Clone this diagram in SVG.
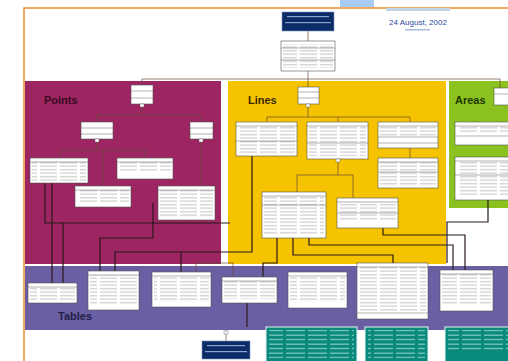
<svg xmlns="http://www.w3.org/2000/svg" width="508" height="361" viewBox="0 0 508 361">
<defs>
<pattern id="txt" width="20" height="3.5" patternUnits="userSpaceOnUse">
<rect x="0" y="1.3" width="17" height="0.8" fill="#b0b0b0"/>
</pattern>
<pattern id="wtxt" width="22" height="4.5" patternUnits="userSpaceOnUse">
<rect x="0" y="1.6" width="19" height="1" fill="#9fd8cf"/>
</pattern>
<style>
.box{fill:#fff;stroke:#555;stroke-width:0.6}
.fill{fill:url(#txt)}
.sep{stroke:#666;stroke-width:0.5}
.c{fill:none;stroke:#2a1a1a;stroke-width:1.2}
.cl{fill:none;stroke:#6a4a3a;stroke-width:0.7}
.title{font-family:"Liberation Sans",Arial,sans-serif;font-weight:bold;font-size:11px}
.teal{fill:#0a8a7c;stroke:#e8f4f2;stroke-width:1}
.navy{fill:#0c2c68;stroke:#7a8fb8;stroke-width:0.6}
.dia{fill:#fff;stroke:#555;stroke-width:0.4}
</style>
</defs>
<rect width="508" height="361" fill="#fff"/>
<rect x="340" y="0" width="34" height="7" fill="#a8cdf5"/>
<path d="M24,361 V8 H508" fill="none" stroke="#f08a30" stroke-width="1.5"/>

<!-- regions -->
<g id="regions">
<rect x="25" y="81" width="196" height="183" fill="#9c2562"/>
<rect x="228" y="81" width="218" height="183" fill="#f6c300"/>
<rect x="449" y="81" width="59" height="127" fill="#8cc21f"/>
<rect x="25" y="266" width="483" height="64" fill="#6b5fa4"/>
<text class="title" x="44" y="104" fill="#3a0a1e">Points</text>
<text class="title" x="248" y="104" fill="#3a2800">Lines</text>
<text class="title" x="455" y="104" fill="#1e3600">Areas</text>
<text class="title" x="58" y="320" fill="#1e1e48">Tables</text>
</g>

<g id="heading">
<rect x="386" y="8" width="64" height="3" fill="#c4d4e8"/>
<text x="418" y="25" font-family="Liberation Sans,Arial,sans-serif" font-size="8" fill="#2a4a9a" text-anchor="middle">24 August, 2002</text>
<rect x="405" y="29" width="25" height="1.5" fill="#a9bdd8"/>
</g>

<!-- connectors -->
<g id="connectors">
<path class="cl" d="M308,31 V41 M308,71 V87 M142,79 H500 M142,79 V85 M500,79 V88"/>
<!-- points -->
<path class="cl" d="M142,104 V115 M97,115 H201 M97,115 V122 M201,115 V122"/>
<path class="cl" d="M97,139 V150 M60,150 H145 M60,150 V158 M145,150 V158 M103,150 V186 M201,139 V186"/>
<!-- lines -->
<path class="cl" d="M308,104 V117 M267,117 H410 M267,117 V122 M338,117 V122 M410,117 V122 M410,148 V158"/>
<path class="cl" d="M338,159 V175 M297,175 H353 M297,175 V192 M353,175 V198"/>
<!-- to tables -->
<path class="c" d="M52,183 V283"/>
<path class="c" d="M45,183 V223 H63"/>
<path class="c" d="M230,223 H63 V283"/>
<path class="c" d="M153,203 V238 H100 V271"/>
<path class="c" d="M252,156 V252 H115 V271"/>
<path class="c" d="M181,252 V272"/>
<path class="c" d="M277,238 V263 H263 V277"/>
<path class="c" d="M293,238 V255 H393 V263"/>
<path class="c" d="M309,238 V245 H453 V270"/>
<path class="c" d="M383,228 V235 H465 V270"/>
<path class="c" d="M488,200 V222 H447 V263"/>
<path class="cl" d="M196,272 V263 H233 V277"/>
<path class="c" d="M247,303 V327"/>
<path class="cl" d="M226,330 V341"/>
<rect class="dia" x="224" y="331" width="4" height="3"/>
</g>

<!-- top nodes -->
<g id="n-header"><rect class="navy" x="282" y="12" width="52" height="19"/><rect x="287" y="16" width="42" height="1.2" fill="#8aa2d0"/><rect x="285" y="22" width="46" height="1.2" fill="#8aa2d0"/></g>
<g id="n-root"><rect class="box" x="281" y="41" width="54" height="30"/><rect class="fill" x="283" y="44" width="50" height="24"/><line class="sep" x1="281" y1="48" x2="335" y2="48"/><line class="sep" x1="281" y1="60" x2="335" y2="60"/></g>

<!-- points nodes -->
<g id="p-top"><rect class="box" x="131" y="85" width="22" height="19"/><line class="sep" x1="131" y1="91" x2="153" y2="91"/><line class="sep" x1="131" y1="98" x2="153" y2="98"/><rect class="dia" x="140" y="104" width="4" height="3"/></g>
<g id="p-mid1"><rect class="box" x="81" y="122" width="32" height="17"/><line class="sep" x1="81" y1="128" x2="113" y2="128"/><line class="sep" x1="81" y1="134" x2="113" y2="134"/><rect class="dia" x="95" y="139" width="4" height="3"/></g>
<g id="p-mid2"><rect class="box" x="190" y="122" width="23" height="17"/><line class="sep" x1="190" y1="128" x2="213" y2="128"/><line class="sep" x1="190" y1="134" x2="213" y2="134"/><rect class="dia" x="199" y="139" width="4" height="3"/></g>
<g id="p-a"><rect class="box" x="30" y="158" width="58" height="25"/><rect class="fill" x="32" y="161" width="54" height="20"/><line class="sep" x1="30" y1="162" x2="88" y2="162"/></g>
<g id="p-b"><rect class="box" x="117" y="158" width="56" height="21"/><rect class="fill" x="119" y="162" width="52" height="9"/><line class="sep" x1="117" y1="162" x2="173" y2="162"/></g>
<g id="p-c"><rect class="box" x="75" y="186" width="56" height="21"/><rect class="fill" x="77" y="190" width="52" height="13"/><line class="sep" x1="75" y1="190" x2="131" y2="190"/></g>
<g id="p-d"><rect class="box" x="158" y="186" width="57" height="34"/><rect class="fill" x="160" y="190" width="53" height="27"/><line class="sep" x1="158" y1="190" x2="215" y2="190"/></g>

<!-- lines nodes -->
<g id="l-top"><rect class="box" x="298" y="87" width="21" height="17"/><line class="sep" x1="298" y1="92" x2="319" y2="92"/><line class="sep" x1="298" y1="98" x2="319" y2="98"/><rect class="dia" x="306" y="104" width="4" height="3"/></g>
<g id="l-1"><rect class="box" x="236" y="122" width="61" height="34"/><rect class="fill" x="238" y="126" width="57" height="27"/><line class="sep" x1="236" y1="126" x2="297" y2="126"/><line class="sep" x1="236" y1="141" x2="297" y2="141"/></g>
<g id="l-2"><rect class="box" x="307" y="122" width="61" height="37"/><rect class="fill" x="309" y="126" width="57" height="30"/><line class="sep" x1="307" y1="126" x2="368" y2="126"/><line class="sep" x1="307" y1="143" x2="368" y2="143"/><rect class="dia" x="336" y="159" width="4" height="3"/></g>
<g id="l-3"><rect class="box" x="378" y="122" width="60" height="26"/><rect class="fill" x="380" y="126" width="56" height="10"/><line class="sep" x1="378" y1="126" x2="438" y2="126"/><line class="sep" x1="378" y1="137" x2="438" y2="137"/><line class="sep" x1="378" y1="143" x2="438" y2="143"/></g>
<g id="l-4"><rect class="box" x="378" y="158" width="60" height="30"/><rect class="fill" x="380" y="162" width="56" height="23"/><line class="sep" x1="378" y1="162" x2="438" y2="162"/><line class="sep" x1="378" y1="172" x2="438" y2="172"/></g>
<g id="l-5"><rect class="box" x="262" y="192" width="64" height="46"/><rect class="fill" x="264" y="196" width="60" height="39"/><line class="sep" x1="262" y1="196" x2="326" y2="196"/><line class="sep" x1="262" y1="205" x2="326" y2="205"/></g>
<g id="l-6"><rect class="box" x="337" y="198" width="61" height="30"/><rect class="fill" x="339" y="202" width="57" height="18"/><line class="sep" x1="337" y1="202" x2="398" y2="202"/><line class="sep" x1="337" y1="213" x2="398" y2="213"/></g>

<!-- areas nodes -->
<g id="a-top"><rect class="box" x="494" y="88" width="18" height="17"/><line class="sep" x1="494" y1="94" x2="508" y2="94"/></g>
<g id="a-1"><rect class="box" x="455" y="122" width="57" height="23"/><rect class="fill" x="457" y="126" width="53" height="8"/><line class="sep" x1="455" y1="126" x2="508" y2="126"/><line class="sep" x1="455" y1="136" x2="508" y2="136"/></g>
<g id="a-2"><rect class="box" x="455" y="157" width="57" height="43"/><rect class="fill" x="457" y="161" width="53" height="34"/><line class="sep" x1="455" y1="161" x2="508" y2="161"/><line class="sep" x1="455" y1="175" x2="508" y2="175"/></g>

<!-- tables nodes -->
<g id="t-1"><rect class="box" x="28" y="283" width="49" height="20"/><rect class="fill" x="30" y="287" width="45" height="13"/><line class="sep" x1="28" y1="287" x2="77" y2="287"/></g>
<g id="t-2"><rect class="box" x="88" y="271" width="51" height="39"/><rect class="fill" x="90" y="275" width="47" height="29"/><line class="sep" x1="88" y1="275" x2="139" y2="275"/></g>
<g id="t-3"><rect class="box" x="152" y="272" width="59" height="35"/><rect class="fill" x="154" y="276" width="55" height="26"/><line class="sep" x1="152" y1="276" x2="211" y2="276"/></g>
<g id="t-4"><rect class="box" x="222" y="277" width="55" height="26"/><rect class="fill" x="224" y="281" width="51" height="18"/><line class="sep" x1="222" y1="281" x2="277" y2="281"/></g>
<g id="t-5"><rect class="box" x="288" y="272" width="59" height="36"/><rect class="fill" x="290" y="276" width="55" height="26"/><line class="sep" x1="288" y1="276" x2="347" y2="276"/></g>
<g id="t-6"><rect class="box" x="357" y="263" width="71" height="56"/><rect class="fill" x="359" y="267" width="67" height="44"/><line class="sep" x1="357" y1="267" x2="428" y2="267"/><line class="sep" x1="357" y1="313" x2="428" y2="313"/></g>
<g id="t-7"><rect class="box" x="440" y="270" width="53" height="41"/><rect class="fill" x="442" y="274" width="49" height="30"/><line class="sep" x1="440" y1="274" x2="493" y2="274"/></g>

<!-- bottom nodes -->
<g id="b-navy"><rect class="navy" x="202" y="341" width="48" height="18"/><rect x="207" y="345" width="38" height="1.2" fill="#8aa2d0"/><rect x="205" y="351" width="42" height="1.2" fill="#8aa2d0"/></g>
<g id="b-note1"><rect class="teal" x="266" y="327" width="91" height="36"/><rect x="269" y="330" width="85" height="28" fill="url(#wtxt)"/></g>
<g id="b-note2"><rect class="teal" x="365" y="327" width="63" height="36"/><rect x="368" y="330" width="57" height="28" fill="url(#wtxt)"/></g>
<g id="b-note3"><rect class="teal" x="445" y="327" width="66" height="36"/><rect x="448" y="330" width="60" height="20" fill="url(#wtxt)"/></g>
</svg>
